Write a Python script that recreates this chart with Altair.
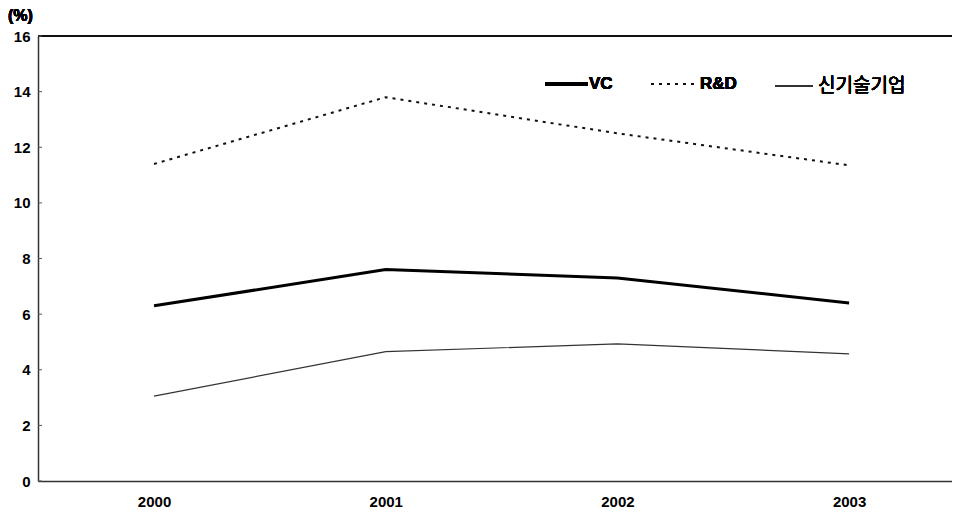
import altair as alt
import pandas as pd

years = ["2000", "2001", "2002", "2003"]
vc = [6.3, 7.6, 7.3, 6.4]
rnd = [11.4, 13.8, 12.5, 11.35]
newtech = [3.05, 4.65, 4.93, 4.57]
y_ticks = [0, 2, 4, 6, 8, 10, 12, 14, 16]

W, H = 914, 445
FONT = "Liberation Sans"

df_vc = pd.DataFrame({"year": years, "value": vc})
df_rd = pd.DataFrame({"year": years, "value": rnd})
df_nt = pd.DataFrame({"year": years, "value": newtech})
df_ticks = pd.DataFrame({"value": y_ticks})

xenc = alt.X("year:O", scale=alt.Scale(type="point", domain=years, padding=0.4725, align=0.53),
             axis=alt.Axis(title=None, labelAngle=0, ticks=False, labelPadding=13,
                           labelFont=FONT, labelFontSize=15, labelFontWeight="bold",
                           labelColor="#000", domainColor="#333", domainWidth=1.5, grid=False))
yaxis = alt.Axis(title=None, values=y_ticks, ticks=False, labelPadding=8,
                 labelFont=FONT, labelFontSize=15, labelFontWeight="bold",
                 labelColor="#000", domainColor="#333", domainWidth=1.5, grid=False)
yscale = alt.Scale(domain=[0, 16], nice=False)
yenc = alt.Y("value:Q", scale=yscale, axis=yaxis)

vc_line = alt.Chart(df_vc).mark_line(color="#000", strokeWidth=3).encode(x=xenc, y=yenc)
rd_line = alt.Chart(df_rd).mark_line(color="#111", strokeWidth=2, strokeDash=[3, 5]).encode(x=xenc, y=yenc)
nt_line = alt.Chart(df_nt).mark_line(color="#333", strokeWidth=1.2).encode(x=xenc, y=yenc)

ticks = alt.Chart(df_ticks).mark_rule(color="#555", strokeWidth=1).encode(
    y=yenc, x=alt.value(0), x2=alt.value(4))

top_border = alt.Chart(df_ticks).mark_rule(color="#111", strokeWidth=1.5).encode(
    x=alt.value(0), x2=alt.value(W + 40), y=alt.value(0))

unit = alt.Chart(df_ticks).mark_text(text="(%)", font=FONT, fontSize=16, fontWeight="bold",
                                     align="left", baseline="middle", color="#000").encode(
    x=alt.value(-30), y=alt.value(-20))

# legend
leg_vc_line = alt.Chart(df_ticks).mark_rule(color="#000", strokeWidth=3).encode(
    x=alt.value(507), x2=alt.value(550), y=alt.value(48))
leg_vc_text = alt.Chart(df_ticks).mark_text(text="VC", font=FONT, fontSize=17, fontWeight="bold",
                                            align="left", baseline="middle", color="#000").encode(
    x=alt.value(551), y=alt.value(48))
leg_rd_line = alt.Chart(df_ticks).mark_rule(color="#111", strokeWidth=2, strokeDash=[3, 5]).encode(
    x=alt.value(613), x2=alt.value(657), y=alt.value(48))
leg_rd_text = alt.Chart(df_ticks).mark_text(text="R&D", font=FONT, fontSize=17, fontWeight="bold",
                                            align="left", baseline="middle", color="#000").encode(
    x=alt.value(662), y=alt.value(48))
leg_nt_line = alt.Chart(df_ticks).mark_rule(color="#333", strokeWidth=1.2).encode(
    x=alt.value(737), x2=alt.value(775), y=alt.value(50))
leg_nt_text = alt.Chart(df_ticks).mark_text(text="신기술기업", font="Noto Sans CJK KR", fontSize=19,
                                            align="left", baseline="middle", color="#000").encode(
    x=alt.value(780), y=alt.value(50))

chart = alt.layer(
    top_border, ticks, nt_line, rd_line, vc_line, unit,
    leg_vc_line, leg_vc_text, leg_rd_line, leg_rd_text, leg_nt_line, leg_nt_text
).properties(
    width=W, height=H,
    autosize=alt.AutoSizeParams(type="none"),
    padding={"left": 30, "top": 28, "right": 0, "bottom": 30},
).configure_view(stroke=None).configure(background="white")

chart.save("out.html", embed_options={"renderer": "svg", "actions": False})
